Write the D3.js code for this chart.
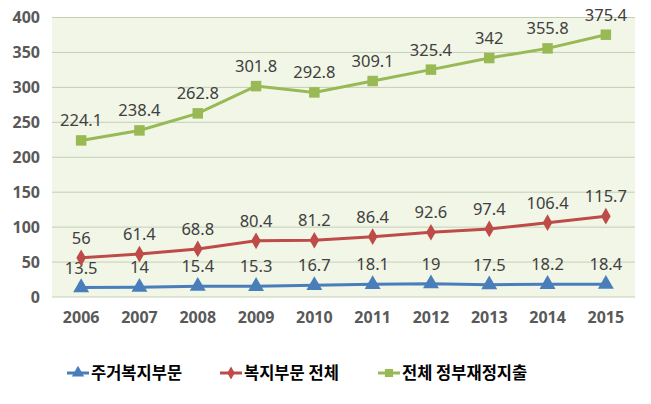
<!DOCTYPE html>
<html><head><meta charset="utf-8">
<script src="https://cdn.jsdelivr.net/npm/d3@7"></script>
<style>body{margin:0;background:#fff}svg{display:block}</style>
</head><body><svg id="c" width="651" height="404"></svg>
<script>
const years = ["2006","2007","2008","2009","2010","2011","2012","2013","2014","2015"];
const housing = [13.5,14,15.4,15.3,16.7,18.1,19,17.5,18.2,18.4];
const welfare = [56,61.4,68.8,80.4,81.2,86.4,92.6,97.4,106.4,115.7];
const total = [224.1,238.4,262.8,301.8,292.8,309.1,325.4,342,355.8,375.4];
const yTicks = [0,50,100,150,200,250,300,350,400];
const seriesNames = ["주거복지부문","복지부문 전체","전체 정부재정지출"];

const svg = d3.select("#c");
const x = d3.scaleBand().domain(years).range([52,635]);
const y = d3.scaleLinear().domain([0,400]).range([297,17.5]);
const cx = d => x(d) + x.bandwidth()/2;

svg.append("rect").attr("x",52).attr("y",y(400)).attr("width",583).attr("height",y(0)-y(400)).attr("fill","#f1f6e7");
svg.append("g").selectAll("line").data(yTicks).join("line")
  .attr("x1",52).attr("x2",635).attr("y1",d=>y(d)).attr("y2",d=>y(d))
  .attr("stroke","#c5cfb6").attr("stroke-width",1);

const yAxis = svg.append("g").attr("transform","translate(40,0)")
  .call(d3.axisLeft(y).tickValues(yTicks).tickSize(0).tickPadding(0));
yAxis.select(".domain").remove();
yAxis.selectAll("text").attr("font-family","'Noto Sans',sans-serif").attr("font-weight","bold")
  .attr("font-size",16).attr("fill","#595959");

const xAxis = svg.append("g").attr("transform","translate(0,312)")
  .call(d3.axisBottom(x).tickSize(0).tickPadding(0));
xAxis.select(".domain").remove();
xAxis.selectAll("text").attr("font-family","'Noto Sans',sans-serif").attr("font-weight","bold")
  .attr("font-size",16).attr("fill","#595959").attr("dy","0.71em");

const series = [
  {vals:housing,color:"#4a7ebb",sym:d3.symbolTriangle,size:110,name:seriesNames[0]},
  {vals:welfare,color:"#be4b48",sym:d3.symbolDiamond,size:80,name:seriesNames[1]},
  {vals:total,color:"#98b954",sym:d3.symbolSquare,size:110,name:seriesNames[2]}
];
const line = d3.line().x((d,i)=>cx(years[i])).y(d=>y(d));
series.forEach(s=>{
  const g = svg.append("g");
  g.append("path").attr("d",line(s.vals)).attr("fill","none").attr("stroke",s.color).attr("stroke-width",3);
  g.selectAll("path.m").data(s.vals).join("path").attr("class","m")
    .attr("d",d3.symbol().type(s.sym).size(s.size))
    .attr("transform",(d,i)=>`translate(${cx(years[i])},${y(d)})`).attr("fill",s.color);
  g.selectAll("text").data(s.vals).join("text")
    .attr("x",(d,i)=>cx(years[i])).attr("y",d=>y(d)-14)
    .attr("text-anchor","middle").attr("font-family","'Noto Sans',sans-serif")
    .attr("font-size",16.5).attr("fill","#404040").text(d=>d);
});

const legX = [67,220,378];
series.forEach((s,i)=>{
  const g = svg.append("g").attr("transform",`translate(${legX[i]},373)`);
  g.append("line").attr("x1",0).attr("x2",22).attr("stroke",s.color).attr("stroke-width",3);
  g.append("path").attr("d",d3.symbol().type(s.sym).size(s.size*0.6)).attr("transform","translate(11,0)").attr("fill",s.color);
  g.append("text").attr("x",24).attr("dy","0.35em").attr("font-family","'Noto Sans CJK KR',sans-serif")
    .attr("font-weight","bold").attr("font-size",16.5).attr("fill","#000").text(s.name);
});
</script></body></html>
